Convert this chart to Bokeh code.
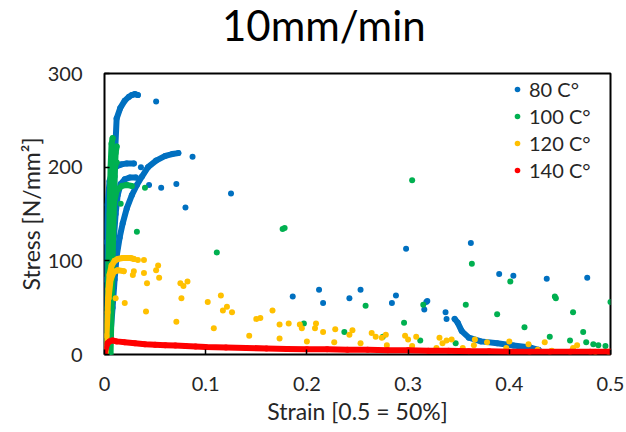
from bokeh.plotting import figure
from bokeh.models import Range1d, Legend, LegendItem, FixedTicker, Div
from bokeh.layouts import column
from bokeh.embed import file_html
from bokeh.resources import INLINE

FONT = "Lato"
TEXT = "#262626"

chart_title = "10mm/min"
series_names = ["80 C°", "100 C°", "120 C°", "140 C°"]
series_colors = ["#0070C0", "#00B050", "#FFC000", "#FF0000"]

x_ticks = [0, 0.1, 0.2, 0.3, 0.4, 0.5]
x_tick_labels = ["0", "0.1", "0.2", "0.3", "0.4", "0.5"]
y_ticks = [0, 100, 200, 300]
y_tick_labels = ["0", "100", "200", "300"]

# ---- 80 C° (blue) ----
b80_curve_a_x = [0.003, 0.005, 0.007, 0.009, 0.0105, 0.012, 0.0155, 0.020, 0.024, 0.027, 0.030, 0.033]
b80_curve_a_y = [0, 50, 100, 160, 216, 252, 263, 271, 275, 277, 278, 277]
b80_curve_b_x = [0.004, 0.006, 0.008, 0.010, 0.012, 0.015, 0.018, 0.022, 0.027, 0.032, 0.037, 0.043, 0.051, 0.060, 0.067, 0.073]
b80_curve_b_y = [0, 23, 50, 80, 105, 125, 140, 156, 170, 181, 190, 200, 207, 212, 214, 215]
b80_curve_c_x = [0.000, 0.001, 0.001, 0.002, 0.003, 0.005, 0.008, 0.012, 0.017, 0.022, 0.029]
b80_curve_c_y = [0, 40, 80, 120, 160, 185, 196, 201, 203, 204, 204]
b80_curve_d_x = [0.003, 0.005, 0.007, 0.009, 0.011, 0.013, 0.016, 0.020, 0.025, 0.031]
b80_curve_d_y = [0, 40, 80, 120, 150, 170, 182, 187, 189, 189]
b80_tail_x = [0.346, 0.349, 0.353, 0.360, 0.372, 0.388, 0.404, 0.421, 0.429]
b80_tail_y = [38, 34, 25, 18, 14, 12, 9.6, 7.4, 5]
b80_pts_x = [0.051, 0.087, 0.036, 0.044, 0.056, 0.071, 0.125, 0.080,
             0.186, 0.212, 0.216, 0.242, 0.253, 0.284, 0.288, 0.298, 0.318,
             0.316, 0.319, 0.337, 0.338, 0.362, 0.390, 0.404, 0.437, 0.477]
b80_pts_y = [270, 211, 200, 181, 178, 182, 172, 157,
             62, 69, 55, 60, 69, 55, 63, 113, 56,
             48, 57, 45, 38, 119, 86, 84, 81, 82]

# ---- 100 C° (green) ----
g100_curve_a_x = [0.002, 0.003, 0.004, 0.005, 0.006, 0.007, 0.008]
g100_curve_a_y = [0, 50, 100, 150, 200, 225, 231]
g100_curve_b_x = [0.004, 0.005, 0.006, 0.007, 0.008, 0.010, 0.012]
g100_curve_b_y = [0, 50, 100, 150, 180, 200, 205]
g100_curve_c_x = [0.003, 0.005, 0.007, 0.009, 0.012, 0.017, 0.022, 0.027]
g100_curve_c_y = [0, 60, 120, 160, 175, 180, 181, 180]
g100_curve_d_x = [0.006, 0.007, 0.008, 0.009, 0.010, 0.011, 0.012]
g100_curve_d_y = [0, 50, 100, 150, 190, 215, 222]
g100_pts_x = [0.016, 0.032, 0.040, 0.111, 0.176, 0.178, 0.304,
              0.197, 0.237, 0.258, 0.275, 0.296, 0.312, 0.315, 0.347, 0.357,
              0.363, 0.388, 0.401, 0.415, 0.440, 0.445, 0.446, 0.460, 0.463,
              0.473, 0.476, 0.483, 0.488, 0.495, 0.500]
g100_pts_y = [161, 131, 178, 109, 134, 135, 186,
              33, 24, 52, 19, 34, 15, 53, 12, 53,
              97, 43, 78, 29, 19, 62, 60, 15, 45,
              24, 13, 11, 10, 9, 56]

# ---- 120 C° (yellow) ----
y120_curve_a_x = [0.001, 0.002, 0.003, 0.004, 0.005, 0.007, 0.010, 0.013, 0.018, 0.022, 0.026, 0.029]
y120_curve_a_y = [0, 20, 45, 70, 85, 95, 100, 102, 103, 103, 103, 102]
y120_curve_b_x = [0.004, 0.006, 0.009, 0.013, 0.019]
y120_curve_b_y = [60, 80, 88, 90, 89]
y120_pts_x = [0.033, 0.039, 0.029, 0.028, 0.039, 0.053, 0.051, 0.054, 0.042, 0.075,
              0.082, 0.078, 0.076, 0.020, 0.011, 0.041, 0.071, 0.102, 0.115, 0.121,
              0.117, 0.126, 0.108, 0.143, 0.150, 0.154, 0.166, 0.173, 0.173, 0.182,
              0.193, 0.195, 0.200, 0.209, 0.208, 0.216, 0.227, 0.228, 0.242, 0.245,
              0.253, 0.264, 0.268, 0.274, 0.278, 0.279, 0.297, 0.300, 0.304, 0.308,
              0.328, 0.331, 0.334, 0.338, 0.343, 0.354, 0.365, 0.366, 0.378, 0.397,
              0.400, 0.419, 0.428, 0.435, 0.442, 0.463, 0.467, 0.485, 0.498]
y120_pts_y = [101, 101, 89, 85, 87, 95, 90, 82, 76, 76,
              78, 73, 60, 55, 60, 46, 35, 56, 63, 51,
              47, 45, 28, 20, 38, 39, 47, 32, 17, 33,
              32, 28, 14, 33, 28, 24, 13, 27, 21, 26,
              12, 23, 19, 18, 21, 10, 20, 16, 9, 19,
              7, 18, 12, 15, 16, 7, 10, 16, 13, 7,
              14, 11, 5, 13, 4, 7, 10, 3, 3]

# ---- 140 C° (red) ----
r140_curve_x = [0.000, 0.001, 0.003, 0.005, 0.008, 0.012, 0.020, 0.030, 0.040, 0.050,
                0.060, 0.070, 0.080, 0.090, 0.100, 0.120, 0.140, 0.160, 0.180, 0.200,
                0.220, 0.240, 0.260, 0.280, 0.300, 0.320, 0.340, 0.360, 0.380, 0.400,
                0.420, 0.440, 0.460, 0.480, 0.500]
r140_curve_y = [0, 6, 12, 14, 15, 14, 13, 12, 11, 10.5,
                10, 9.5, 9, 8.5, 8, 7.5, 7, 6.5, 6, 5.5,
                5.5, 5, 5, 4.5, 4.5, 4, 4, 3.5, 3.5, 3,
                3, 3, 3, 3, 3]

W, H = 626, 432
TITLE_H = 52
FL, FR, FT, FB = 104, 610, 73, 354   # frame edges in page pixels

title_div = Div(text=chart_title, width=W, height=TITLE_H, margin=0,
                styles={"font-family": FONT, "font-size": "42px", "line-height": "normal",
                        "color": "#000000", "padding-left": "222px", "white-space": "nowrap"})

p = figure(width=W, height=H - TITLE_H, output_backend="svg", toolbar_location=None,
           x_range=Range1d(0, 0.5), y_range=Range1d(0, 300),
           min_border_left=FL, min_border_right=W - FR,
           min_border_top=FT - TITLE_H, min_border_bottom=H - FB, margin=0)

p.grid.visible = False
p.outline_line_color = "#000000"
p.outline_line_width = 2
p.background_fill_color = "white"
p.border_fill_color = "white"

for ax in (p.xaxis[0], p.yaxis[0]):
    ax.axis_line_color = None
    ax.major_tick_in = 5
    ax.major_tick_out = 0
    ax.major_tick_line_color = "#000000"
    ax.major_tick_line_width = 1.5
    ax.minor_tick_line_color = None
    ax.major_label_text_font = FONT
    ax.major_label_text_font_size = "20px"
    ax.major_label_text_color = TEXT
    ax.axis_label_text_font = FONT
    ax.axis_label_text_font_size = "23px"
    ax.axis_label_text_font_style = "normal"
    ax.axis_label_text_color = TEXT

p.xaxis.ticker = FixedTicker(ticks=x_ticks)
p.xaxis.major_label_overrides = {t: l for t, l in zip(x_ticks, x_tick_labels)}
p.yaxis.ticker = FixedTicker(ticks=y_ticks)
p.yaxis.major_label_overrides = {t: l for t, l in zip(y_ticks, y_tick_labels)}
p.xaxis.axis_label = "Strain [0.5 = 50%]"
p.yaxis.axis_label = "Stress [N/mm²]"
p.xaxis.major_label_standoff = 22
p.yaxis.major_label_standoff = 22
p.xaxis.axis_label_standoff = 3
p.yaxis.axis_label_standoff = 0

DOT = 6
LW = 6

def curve(xs, ys, color):
    p.line(xs, ys, line_color=color, line_width=LW, line_cap="round", line_join="round")
    return p.scatter(xs, ys, size=DOT, fill_color=color, line_color=None)

blue_c = series_colors[0]
for xs, ys in [(b80_curve_c_x, b80_curve_c_y), (b80_curve_a_x, b80_curve_a_y),
               (b80_curve_b_x, b80_curve_b_y), (b80_curve_d_x, b80_curve_d_y),
               (b80_tail_x, b80_tail_y)]:
    curve(xs, ys, blue_c)
r_blue = p.scatter(b80_pts_x, b80_pts_y, size=DOT, fill_color=blue_c, line_color=None)

green_c = series_colors[1]
for xs, ys in [(g100_curve_a_x, g100_curve_a_y), (g100_curve_b_x, g100_curve_b_y),
               (g100_curve_c_x, g100_curve_c_y), (g100_curve_d_x, g100_curve_d_y)]:
    curve(xs, ys, green_c)
r_green = p.scatter(g100_pts_x, g100_pts_y, size=DOT, fill_color=green_c, line_color=None)

yel_c = series_colors[2]
for xs, ys in [(y120_curve_a_x, y120_curve_a_y), (y120_curve_b_x, y120_curve_b_y)]:
    curve(xs, ys, yel_c)
r_yel = p.scatter(y120_pts_x, y120_pts_y, size=DOT, fill_color=yel_c, line_color=None)

red_c = series_colors[3]
r_red = curve(r140_curve_x, r140_curve_y, red_c)

legend = Legend(items=[LegendItem(label=series_names[0], renderers=[r_blue]),
                       LegendItem(label=series_names[1], renderers=[r_green]),
                       LegendItem(label=series_names[2], renderers=[r_yel]),
                       LegendItem(label=series_names[3], renderers=[r_red])],
                location=(406, 172))
legend.background_fill_alpha = 0
legend.border_line_color = None
legend.padding = 0
legend.margin = 0
legend.spacing = 3
legend.glyph_width = 14
legend.glyph_height = 20
legend.label_height = 20
legend.label_standoff = 5
legend.label_text_font = FONT
legend.label_text_font_size = "20px"
legend.label_text_color = TEXT
p.add_layout(legend, "center")

layout = column(title_div, p, spacing=0, margin=0)
open("out.html", "w").write(file_html(layout, INLINE))
